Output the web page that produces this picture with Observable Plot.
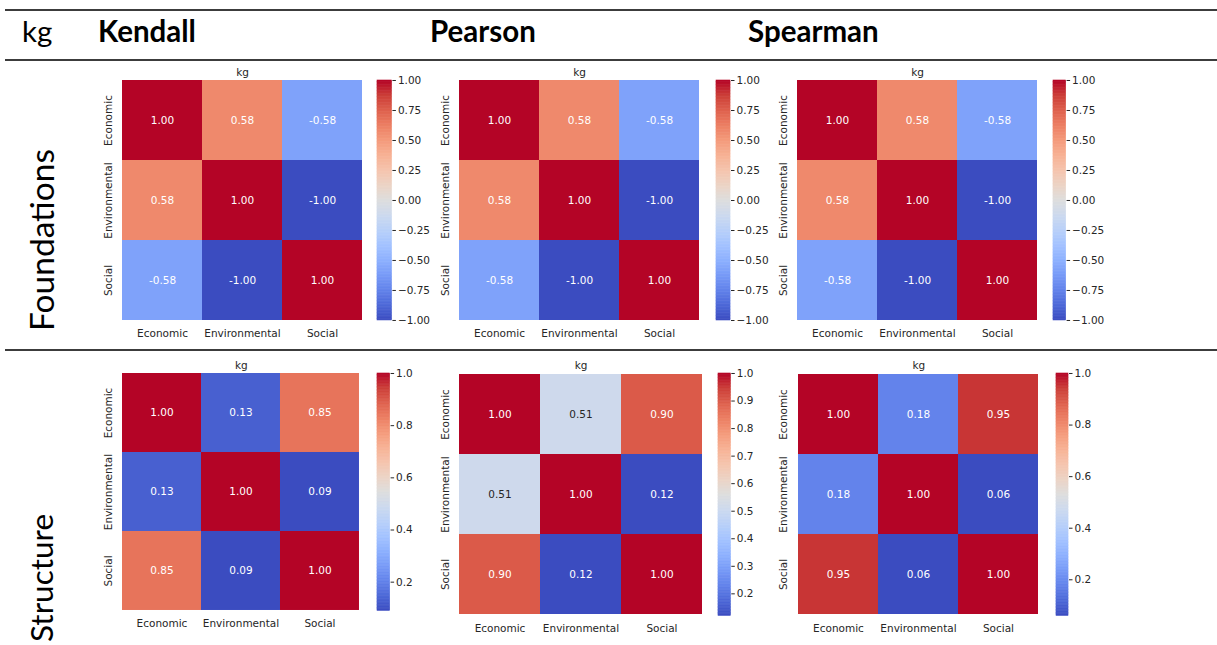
<!DOCTYPE html>
<html><head><meta charset="utf-8">
<script src="https://cdn.jsdelivr.net/npm/d3@7"></script>
<script src="https://cdn.jsdelivr.net/npm/@observablehq/plot@0.6"></script>
<style>
body{margin:0;background:#fff;}
#root{position:relative;width:1217px;height:645px;overflow:hidden;background:#fff;font-family:Lato,"Open Sans",sans-serif;}
.rule{position:absolute;left:5px;width:1212px;height:2px;background:#3c3c3c;}
.hdr{position:absolute;font-size:29.5px;line-height:1;color:#000;white-space:nowrap;}
.rowlab{position:absolute;font-size:33px;line-height:1;color:#000;white-space:nowrap;transform:translate(-50%,-50%) rotate(-90deg);}
.panel{position:absolute;}
</style></head><body><div id="root"></div>
<script>
// ---------- data ----------
const categories = ["Economic", "Environmental", "Social"];
const methods = ["Kendall", "Pearson", "Spearman"];
const groups = ["Foundations", "Structure"];
const unitLabel = "kg";

// correlation matrices (rows = y categories, columns = x categories)
const foundationsKendall  = [[1.00, 0.58, -0.58], [0.58, 1.00, -1.00], [-0.58, -1.00, 1.00]];
const foundationsPearson  = [[1.00, 0.58, -0.58], [0.58, 1.00, -1.00], [-0.58, -1.00, 1.00]];
const foundationsSpearman = [[1.00, 0.58, -0.58], [0.58, 1.00, -1.00], [-0.58, -1.00, 1.00]];
const structureKendall    = [[1.00, 0.13, 0.85], [0.13, 1.00, 0.09], [0.85, 0.09, 1.00]];
const structurePearson    = [[1.00, 0.51, 0.90], [0.51, 1.00, 0.12], [0.90, 0.12, 1.00]];
const structureSpearman   = [[1.00, 0.18, 0.95], [0.18, 1.00, 0.06], [0.95, 0.06, 1.00]];

// colorbar tick labels
const foundationsTicks = [-1.00, -0.75, -0.50, -0.25, 0.00, 0.25, 0.50, 0.75, 1.00];
const kendallStructureTicks = [0.2, 0.4, 0.6, 0.8, 1.0];
const pearsonStructureTicks = [0.2, 0.3, 0.4, 0.5, 0.6, 0.7, 0.8, 0.9, 1.0];
const spearmanStructureTicks = [0.2, 0.4, 0.6, 0.8, 1.0];

// ---------- styling / layout ----------
// matplotlib "coolwarm" colormap, sampled at 17 stops
const coolwarm = ["#3b4cc0", "#4d68d7", "#6282ea", "#779af7", "#8db0fe", "#a3c2ff", "#b8d0f9", "#ccd9ee",
                  "#dddddd", "#ecd3c5", "#f5c4ad", "#f7b194", "#f49a7b", "#ec7f63", "#de604d", "#cb3e38", "#b40426"];
const textDark = "#262626";
const FS = 10.5;

const panels = [
  {m: foundationsKendall,  ticks: foundationsTicks,      dec: 2, left: 122.3, top: 80,    w: 240,   h: 240,   cbL: 377.3,  cbW: 14.4},
  {m: foundationsPearson,  ticks: foundationsTicks,      dec: 2, left: 459.3, top: 80,    w: 240,   h: 240,   cbL: 716,    cbW: 14},
  {m: foundationsSpearman, ticks: foundationsTicks,      dec: 2, left: 796.7, top: 80,    w: 240,   h: 240,   cbL: 1052.7, cbW: 12.6},
  {m: structureKendall,    ticks: kendallStructureTicks, dec: 1, left: 122.3, top: 373.3, w: 237.7, h: 237.4, cbL: 376.7,  cbW: 12.6},
  {m: structurePearson,    ticks: pearsonStructureTicks, dec: 1, left: 459.3, top: 373.3, w: 243,   h: 242.4, cbL: 717.7,  cbW: 12.3},
  {m: structureSpearman,   ticks: spearmanStructureTicks,dec: 1, left: 796.7, top: 373.3, w: 242.6, h: 242.4, cbL: 1055.7, cbW: 12}
];

const root = document.getElementById("root");

// rules
for (const y of [10, 60, 350]) {
  const r = document.createElement("div");
  r.className = "rule"; r.style.top = (y - 1) + "px";
  root.appendChild(r);
}
// headers
function addHdr(text, left, bold) {
  const d = document.createElement("div");
  d.className = "hdr"; d.textContent = text;
  d.style.left = left + "px"; d.style.top = "16px";
  d.style.fontWeight = bold ? "700" : "400";
  root.appendChild(d);
}
addHdr(unitLabel, 22, false);
[98, 430, 748].forEach((x, i) => addHdr(methods[i], x, true));
// row labels
[{cy: 240, fs: 33.5}, {cy: 578, fs: 31.5}].forEach((o, i) => {
  const d = document.createElement("div");
  d.className = "rowlab"; d.textContent = groups[i];
  d.style.left = "42px"; d.style.top = o.cy + "px"; d.style.fontSize = o.fs + "px";
  root.appendChild(d);
});

function lum(c) {
  const {r, g, b} = d3.rgb(c);
  const f = v => { v /= 255; return v <= 0.03928 ? v / 12.92 : Math.pow((v + 0.055) / 1.055, 2.4); };
  return 0.2126 * f(r) + 0.7152 * f(g) + 0.0722 * f(b);
}

const mL = 30, mT = 22, mB = 24, mR = 2;
for (const p of panels) {
  const flat = p.m.flat();
  const vmin = d3.min(flat), vmax = d3.max(flat);
  const dom = coolwarm.map((_, i) => vmin + (vmax - vmin) * i / (coolwarm.length - 1));
  const colorOpts = {type: "linear", domain: dom, range: coolwarm, interpolate: "rgb"};
  const cmap = d3.scaleLinear().domain(dom).range(coolwarm).interpolate(d3.interpolateRgb);
  const data = [];
  p.m.forEach((row, i) => row.forEach((v, j) => data.push({row: categories[i], col: categories[j], v})));

  const heat = Plot.plot({
    width: p.w + mL + mR, height: p.h + mT + mB,
    marginLeft: mL, marginTop: mT, marginBottom: mB, marginRight: mR,
    style: {fontFamily: "DejaVu Sans", fontSize: FS + "px", background: "transparent", overflow: "visible"},
    x: {domain: categories, padding: 0, axis: null},
    y: {domain: categories, padding: 0, axis: null},
    color: colorOpts,
    marks: [
      Plot.cell(data, {x: "col", y: "row", fill: "v"}),
      Plot.text(data, {x: "col", y: "row", text: d => d.v.toFixed(2),
        fill: d => lum(cmap(d.v)) > 0.408 ? textDark : "#ffffff", fontSize: FS}),
      Plot.text([unitLabel], {text: d => d, frameAnchor: "top", lineAnchor: "middle", dy: -8, fill: textDark, fontSize: FS}),
      Plot.text(categories, {x: d => d, text: d => d, frameAnchor: "bottom", lineAnchor: "middle", dy: 13, fill: textDark, fontSize: FS}),
      Plot.text(categories, {y: d => d, text: d => d, frameAnchor: "left", lineAnchor: "middle", dx: -14, rotate: -90, textAnchor: "middle", fill: textDark, fontSize: FS})
    ]
  });
  heat.classList.add("panel");
  heat.style.left = (p.left - mL) + "px";
  heat.style.top = (p.top - mT) + "px";
  root.appendChild(heat);

  // colorbar
  const N = 160;
  const stripes = d3.range(N).map(i => ({y1: vmin + (vmax - vmin) * i / N, y2: vmin + (vmax - vmin) * (i + 1) / N}));
  const cbM = 6;
  const fmt = d => (d < 0 ? "\u2212" : "") + Math.abs(d).toFixed(p.dec);
  const bar = Plot.plot({
    width: p.cbW + 45, height: p.h + 2 * cbM,
    marginLeft: 0, marginRight: 45, marginTop: cbM, marginBottom: cbM,
    style: {fontFamily: "DejaVu Sans", fontSize: FS + "px", background: "transparent", overflow: "visible", color: textDark},
    x: {domain: [0, 1], axis: null},
    y: {domain: [vmin, vmax], axis: null},
    color: colorOpts,
    marks: [
      Plot.rect(stripes, {x1: 0, x2: 1, y1: "y1", y2: "y2", fill: d => (d.y1 + d.y2) / 2, stroke: d => (d.y1 + d.y2) / 2, strokeWidth: 0.6}),
      Plot.axisY(p.ticks, {anchor: "right", tickSize: 3.5, tickPadding: 2.5, tickFormat: fmt, fontSize: FS, stroke: textDark, fill: textDark})
    ]
  });
  bar.classList.add("panel");
  bar.style.left = p.cbL + "px";
  bar.style.top = (p.top - cbM) + "px";
  root.appendChild(bar);
}
</script></body></html>
